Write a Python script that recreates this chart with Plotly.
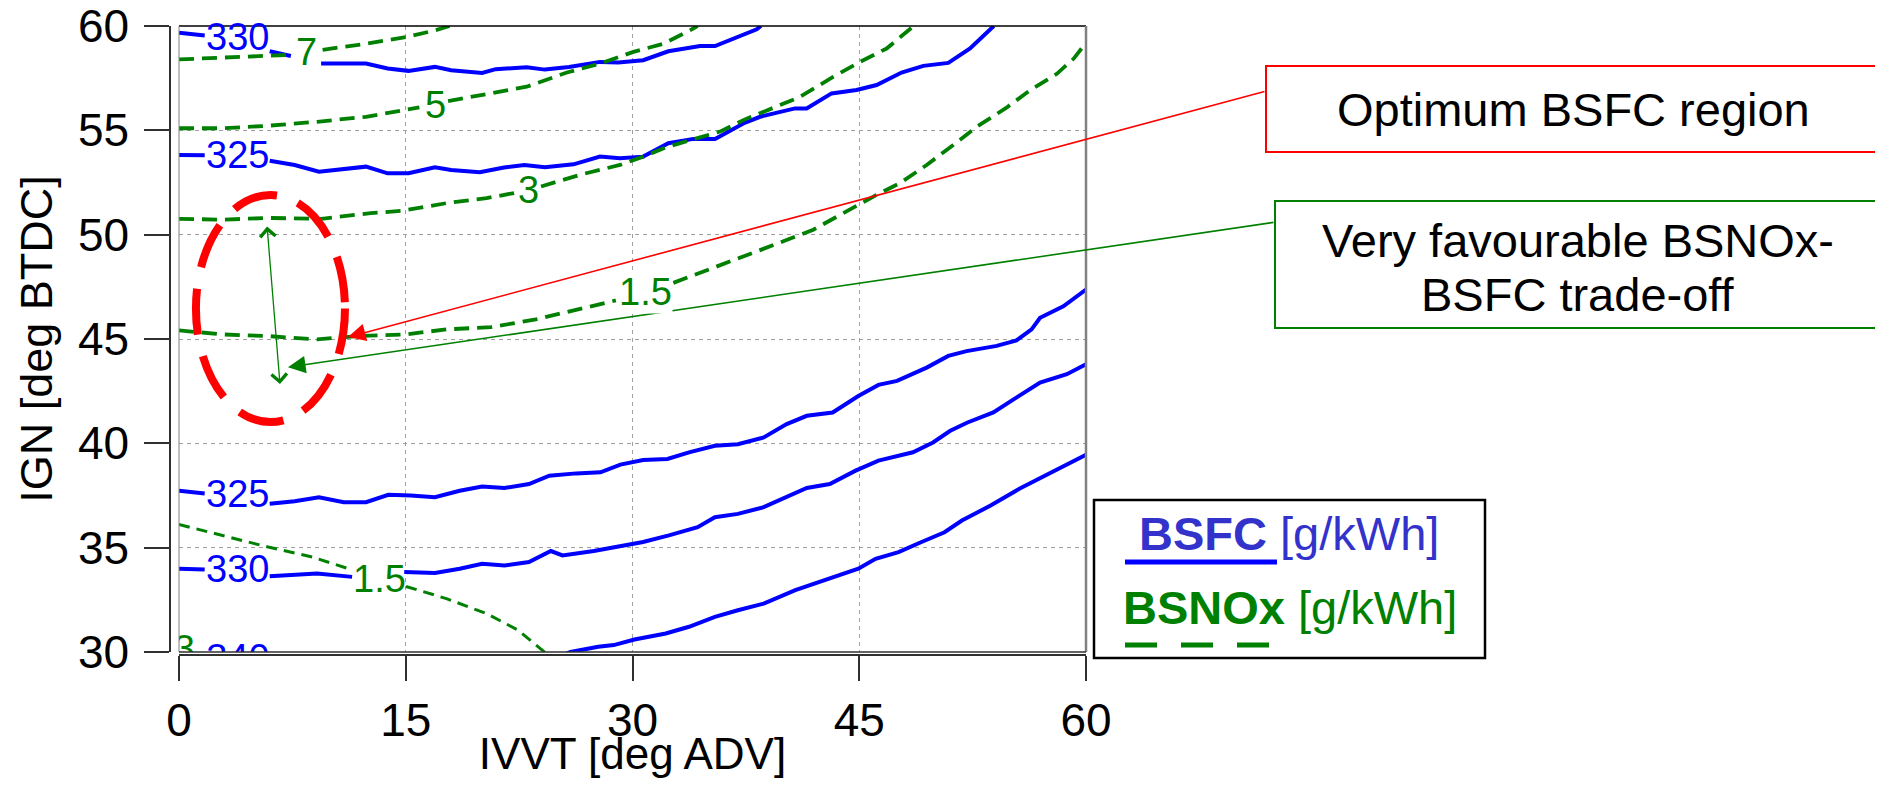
import plotly.graph_objects as go

FONT = "Liberation Sans, Arial, Helvetica, sans-serif"
BLUE = "#0000ff"
GREEN = "#008000"
RED = "#ff0000"
LEG_BLUE = "#3333cc"

# ---------------- axes ----------------
X_TICKS = [0, 15, 30, 45, 60]
Y_TICKS = [30, 35, 40, 45, 50, 55, 60]
X_RANGE = [0, 60]
Y_RANGE = [30, 60]
X_TITLE = "IVVT [deg ADV]"
Y_TITLE = "IGN [deg BTDC]"

# ---------------- BSFC contours [g/kWh] (None = gap for inline label) ----------------
BSFC_330_TOP_X = [0, 1.7, None, 6.0, 7.4, None, 9.4, 12.37, 13.8, 15.18, 16.93, 18.0, 20.05, 20.95, 23.0,
                  24.2, 25.8, 27.85, 29.06, 30.71, 32.37, 34.47, 35.46, 36.67, 38.22, 38.5]
BSFC_330_TOP_Y = [59.68, 59.55, None, 58.79, 58.56, None, 58.2, 58.2, 57.96, 57.85, 58.04, 57.88, 57.75, 57.93, 58.02,
                  57.91, 58.04, 58.28, 58.25, 58.36, 58.79, 59.04, 59.04, 59.39, 59.84, 60.0]

BSFC_325_TOP_X = [0, 1.7, None, 6.0, 7.65, 9.26, 12.37, 13.8, 15.18, 16.93, 18.0, 19.9, 21.5, 22.85, 24.2, 26.1,
                  27.85, 29.17, 30.71, 32.37, 34.02, 35.46, 37.33, 38.44, 39.76, 40.75, 41.52, 43.17, 44.82,
                  46.15, 47.8, 49.24, 50.89, 52.33, 53.9]
BSFC_325_TOP_Y = [53.82, 53.8, None, 53.54, 53.34, 53.02, 53.26, 52.94, 52.94, 53.23, 53.1, 52.99, 53.22, 53.34, 53.23, 53.37,
                  53.74, 53.66, 53.74, 54.38, 54.59, 54.59, 55.33, 55.65, 55.86, 56.05, 56.05, 56.77, 56.93,
                  57.17, 57.77, 58.09, 58.23, 58.92, 60.0]

BSFC_325_LOW_X = [0, 1.7, None, 6.0, 7.65, 9.26, 10.9, 12.37, 13.85, 15.33, 16.93, 18.57, 20.05, 21.53, 23.15, 24.5,
                  26.27, 27.88, 29.2, 30.7, 32.31, 33.74, 35.45, 36.97, 38.68, 40.2, 41.53, 43.24, 44.94, 46.27,
                  47.5, 49.46, 50.89, 52.1, 54.09, 55.4, 56.4, 56.96, 58.5, 60]
BSFC_325_LOW_Y = [37.73, 37.6, None, 37.1, 37.22, 37.42, 37.18, 37.18, 37.53, 37.5, 37.42, 37.73, 37.93, 37.86, 38.05, 38.45,
                  38.56, 38.61, 38.98, 39.2, 39.25, 39.57, 39.88, 39.96, 40.28, 40.92, 41.32, 41.48, 42.27, 42.8,
                  42.99, 43.63, 44.19, 44.42, 44.67, 44.93, 45.46, 46.02, 46.57, 47.37]

BSFC_330_LOW_X = [0, 1.7, None, 6.0, 9.13, 11.45, None, 14.9, 16.93, 18.57, 20.05, 21.53, 23.15, 24.6, 25.37, 27.44,
                  29.2, 30.7, 32.41, 34.31, 35.45, 36.97, 38.68, 40.2, 41.53, 43.05, 44.76, 46.27, 48.55, 49.88,
                  51.02, 52.16, 53.87, 55.39, 56.96, 58.73, 60]
BSFC_330_LOW_Y = [33.99, 33.95, None, 33.63, 33.76, 33.6, None, 33.83, 33.79, 33.99, 34.23, 34.15, 34.31, 34.84, 34.63, 34.84,
                  35.06, 35.27, 35.59, 35.98, 36.46, 36.62, 36.94, 37.42, 37.86, 38.05, 38.69, 39.17, 39.57, 40.04,
                  40.6, 41.0, 41.48, 42.19, 42.91, 43.31, 43.79]

BSFC_340_X = [25.0, 25.9, 27.73, 28.76, 30.13, 32.2, 33.74, 35.45, 36.97, 38.68, 40.77, 43.05, 44.94, 46.08, 47.6,
              49.12, 50.64, 51.79, 53.69, 55.59, 57.11, 58.63, 60]
BSFC_340_Y = [29.75, 30.0, 30.25, 30.33, 30.6, 30.89, 31.21, 31.68, 32.0, 32.32, 32.96, 33.52, 33.99, 34.47, 34.79,
              35.27, 35.74, 36.3, 37.02, 37.82, 38.37, 38.93, 39.45]

# ---------------- BSNOx contours [g/kWh] ----------------
NOX_7_X = [0, 4.4, 7.4, None, 9.5, 12.37, 15.0, 16.94, 17.9]
NOX_7_Y = [58.4, 58.52, 58.62, None, 58.86, 59.15, 59.47, 59.79, 60.0]

NOX_5_X = [0, 2.9, 5.9, 9.13, 12.37, 15.0, 15.9, None, 17.8, 20.35, 23.0, 25.66, 27.85, 30.06, 32.04, 33.8, 34.3]
NOX_5_Y = [55.1, 55.1, 55.22, 55.41, 55.65, 55.97, 56.1, None, 56.4, 56.72, 57.09, 57.77, 58.2, 58.76, 59.15, 59.79, 60.0]

NOX_3_X = [0, 2.9, 5.9, 9.42, 12.67, 14.74, 17.69, 20.35, 22.2, None, 23.95, 26.53, 29.17, 30.71, 32.26, 34.24,
           35.79, 37.33, 39.08, 41.07, 43.27, 45.05, 46.81, 48.46, 48.6]
NOX_3_Y = [50.76, 50.72, 50.8, 50.76, 51.03, 51.14, 51.51, 51.75, 52.0, None, 52.31, 52.87, 53.34, 53.74, 54.2, 54.62,
           54.94, 55.49, 56.02, 56.6, 57.56, 58.28, 58.92, 59.87, 60.0]

NOX_15_UP_X = [0, 2.9, 5.9, 9.13, 11.77, 15.0, 17.69, 20.64, 23.6, 26.53, 28.9, None, 32.7, 34.47, 36.23, 37.77,
               39.98, 41.96, 43.73, 45.05, 46.15, 47.7, 49.46, 51.22, 52.77, 54.67, 56.32, 58.09, 59.19, 60]
NOX_15_UP_Y = [45.41, 45.22, 45.14, 44.98, 45.14, 45.22, 45.46, 45.57, 45.94, 46.42, 46.85, None, 47.69, 48.17, 48.64, 49.04,
               49.68, 50.24, 50.96, 51.51, 51.91, 52.47, 53.34, 54.3, 55.17, 56.05, 56.93, 57.72, 58.44, 59.2]

NOX_15_LOW_X = [0, 2.9, 5.9, 8.83, 11.3, None, 15.02, 17.69, 20.35, 22.42, 24.18, 24.5]
NOX_15_LOW_Y = [36.11, 35.59, 35.03, 34.55, 33.97, None, 33.14, 32.56, 31.84, 31.05, 30.0, 29.7]

# ---------------- inline contour labels ----------------
BSFC_LABEL_TEXT = ["330", "325", "325", "330"]
BSFC_LABEL_X = [3.85, 3.85, 3.85, 3.85]
BSFC_LABEL_Y = [59.45, 53.8, 37.58, 33.99]
NOX_LABEL_TEXT = ["7", "5", "3", "1.5", "1.5"]
NOX_LABEL_X = [8.45, 16.95, 23.1, 30.85, 13.25]
NOX_LABEL_Y = [58.74, 56.2, 52.15, 47.25, 33.5]
# labels of contours lying just below the visible range (clipped by the axes)
CLIP_BSFC_TEXT, CLIP_BSFC_X, CLIP_BSFC_Y = ["340"], [3.9], [29.55]
CLIP_NOX_TEXT, CLIP_NOX_X, CLIP_NOX_Y = ["3"], [0.35], [30.0]

# ---------------- highlight annotations ----------------
ELLIPSE_X = [1.12, 10.98]
ELLIPSE_Y = [41.02, 51.9]
RED_TIP = (11.18, 45.09)
GREEN_TIP = (7.21, 43.65)
DOUBLE_ARROW_TOP = (5.82, 50.46)
DOUBLE_ARROW_BOTTOM = (6.68, 42.84)
BOX1_TEXT = "Optimum BSFC region"
BOX2_LINES = ["Very favourable BSNOx-", "BSFC trade-off"]

fig = go.Figure()

def add_line(x, y, color, dash=None, width=4):
    fig.add_trace(go.Scatter(x=x, y=y, mode="lines", connectgaps=False, hoverinfo="skip",
                             line=dict(color=color, width=width, dash=dash)))

for xs, ys in [(BSFC_330_TOP_X, BSFC_330_TOP_Y), (BSFC_325_TOP_X, BSFC_325_TOP_Y),
               (BSFC_325_LOW_X, BSFC_325_LOW_Y), (BSFC_330_LOW_X, BSFC_330_LOW_Y),
               (BSFC_340_X, BSFC_340_Y)]:
    add_line(xs, ys, BLUE, None, 4)

for xs, ys in [(NOX_7_X, NOX_7_Y), (NOX_5_X, NOX_5_Y), (NOX_3_X, NOX_3_Y), (NOX_15_UP_X, NOX_15_UP_Y)]:
    add_line(xs, ys, GREEN, "15px,8px", 3.8)
add_line(NOX_15_LOW_X, NOX_15_LOW_Y, GREEN, "11px,7px", 3)

# clipped labels at bottom edge
fig.add_trace(go.Scatter(x=CLIP_BSFC_X, y=CLIP_BSFC_Y, text=CLIP_BSFC_TEXT, mode="text", cliponaxis=True,
                         textfont=dict(family=FONT, size=38, color=BLUE), hoverinfo="skip"))
fig.add_trace(go.Scatter(x=CLIP_NOX_X, y=CLIP_NOX_Y, text=CLIP_NOX_TEXT, mode="text", cliponaxis=True,
                         textfont=dict(family=FONT, size=38, color=GREEN), hoverinfo="skip"))

annotations = []
for t, x, y in zip(BSFC_LABEL_TEXT, BSFC_LABEL_X, BSFC_LABEL_Y):
    annotations.append(dict(x=x, y=y, xref="x", yref="y", text=t, showarrow=False,
                            font=dict(family=FONT, size=38, color=BLUE), xanchor="center", yanchor="middle"))

# page-pixel helpers for layout elements placed outside the plotting area
OFF = 8                      # default page body margin
L, R, T, B = 170, 1086, 26, 655
def PX(p):
    return (p - L) / (R - L)
def PY(p):
    return (B - p) / (B - T)

# arrows from callout boxes
annotations.append(dict(x=RED_TIP[0], y=RED_TIP[1], xref="x", yref="y", ax=1266 - 348, ay=91 - 337,
                        axref="pixel", ayref="pixel", text="", showarrow=True, arrowhead=2, arrowsize=2.2,
                        arrowwidth=1.6, arrowcolor=RED, standoff=0))
annotations.append(dict(x=GREEN_TIP[0], y=GREEN_TIP[1], xref="x", yref="y", ax=1275 - 288, ay=222 - 367,
                        axref="pixel", ayref="pixel", text="", showarrow=True, arrowhead=2, arrowsize=2.2,
                        arrowwidth=1.6, arrowcolor=GREEN, standoff=0))
annotations.append(dict(x=DOUBLE_ARROW_BOTTOM[0], y=DOUBLE_ARROW_BOTTOM[1], xref="x", yref="y",
                        ax=DOUBLE_ARROW_TOP[0], ay=DOUBLE_ARROW_TOP[1], axref="x", ayref="y", text="",
                        showarrow=True, arrowhead=4, startarrowhead=4, arrowside="end+start", arrowsize=2.3,
                        startarrowsize=2.3, arrowwidth=1.3, arrowcolor=GREEN, standoff=0, startstandoff=0))

for i, (t, x, y) in enumerate(zip(NOX_LABEL_TEXT, NOX_LABEL_X, NOX_LABEL_Y)):
    annotations.append(dict(x=x, y=y, xref="x", yref="y", text=t, showarrow=False,
                            font=dict(family=FONT, size=38, color=GREEN), xanchor="center", yanchor="middle",
                            bgcolor="white" if i == 3 else None, borderpad=0))

# callout texts
annotations.append(dict(x=PX(1573), y=PY(110), xref="paper", yref="paper", text=BOX1_TEXT, showarrow=False,
                        font=dict(family=FONT, size=47, color="black"), xanchor="center", yanchor="middle"))
for line_text, py in zip(BOX2_LINES, [240, 294]):
    annotations.append(dict(x=PX(1578), y=PY(py), xref="paper", yref="paper", text=line_text, showarrow=False,
                            font=dict(family=FONT, size=47, color="black"), xanchor="center", yanchor="middle"))

# legend texts
annotations.append(dict(x=PX(1289), y=PY(533), xref="paper", yref="paper", text="<b>BSFC</b> [g/kWh]",
                        showarrow=False, font=dict(family=FONT, size=47, color=LEG_BLUE),
                        xanchor="center", yanchor="middle"))
annotations.append(dict(x=PX(1290), y=PY(607), xref="paper", yref="paper", text="<b>BSNOx</b> [g/kWh]",
                        showarrow=False, font=dict(family=FONT, size=47, color=GREEN),
                        xanchor="center", yanchor="middle"))

shapes = [
    # plot frame
    dict(type="line", xref="x domain", yref="y domain", x0=0, x1=1, y0=1, y1=1, line=dict(color="black", width=1.5)),
    dict(type="line", xref="x domain", yref="y domain", x0=1, x1=1, y0=0, y1=1, line=dict(color="#808080", width=2.5)),
    dict(type="line", xref="x domain", yref="y domain", x0=0, x1=0, y0=0, y1=1, line=dict(color="#808080", width=1)),
    dict(type="line", xref="x domain", yref="y domain", x0=0, x1=1, y0=0, y1=0, line=dict(color="#303030", width=1.5)),
    # dashed ellipse
    dict(type="circle", xref="x", yref="y", x0=ELLIPSE_X[0], x1=ELLIPSE_X[1], y0=ELLIPSE_Y[0], y1=ELLIPSE_Y[1],
         line=dict(color=RED, width=8, dash="46px,22px"), layer="above"),
    # callout boxes
    dict(type="rect", xref="paper", yref="paper", x0=PX(1266), x1=PX(1879), y0=PY(152), y1=PY(66),
         line=dict(color=RED, width=2)),
    dict(type="rect", xref="paper", yref="paper", x0=PX(1275), x1=PX(1880), y0=PY(328), y1=PY(201),
         line=dict(color=GREEN, width=2)),
    # legend box
    dict(type="rect", xref="paper", yref="paper", x0=PX(1094), x1=PX(1485), y0=PY(658), y1=PY(500),
         line=dict(color="black", width=2.5)),
    dict(type="line", xref="paper", yref="paper", x0=PX(1125), x1=PX(1277), y0=PY(562), y1=PY(562),
         line=dict(color=BLUE, width=5)),
    dict(type="line", xref="paper", yref="paper", x0=PX(1125), x1=PX(1272), y0=PY(645), y1=PY(645),
         line=dict(color=GREEN, width=5, dash="32px,24px")),
]

axis_common = dict(showline=True, linecolor="#303030", linewidth=1.5, ticks="outside", ticklen=25,
                   tickwidth=1.5, tickcolor="#303030", showgrid=True, gridcolor="#a0a0a0", gridwidth=1,
                   griddash="4px,4px", zeroline=False, tickfont=dict(family=FONT, size=46, color="black"),
                   anchor="free", position=0, ticklabeloverflow="allow")

FIG_W = 1883 - OFF
FIG_H = 786 - 2 * OFF
fig.update_layout(
    width=FIG_W, height=FIG_H,
    margin=dict(l=L - OFF, r=FIG_W - (R - OFF), t=T - OFF, b=FIG_H - (B - OFF), autoexpand=False),
    paper_bgcolor="white", plot_bgcolor="white", showlegend=False,
    xaxis=dict(domain=[(179 - L) / (R - L), 1], range=X_RANGE, tickvals=X_TICKS,
               title=dict(text=X_TITLE, font=dict(family=FONT, size=44, color="black"), standoff=2),
               ticklabelstandoff=0, **axis_common),
    yaxis=dict(domain=[(B - 652) / (B - T), 1], range=Y_RANGE, tickvals=Y_TICKS,
               title=dict(text=Y_TITLE, font=dict(family=FONT, size=45, color="black"), standoff=10),
               ticklabelstandoff=6, **axis_common),
    annotations=annotations, shapes=shapes,
)

fig.write_html("out.html")
